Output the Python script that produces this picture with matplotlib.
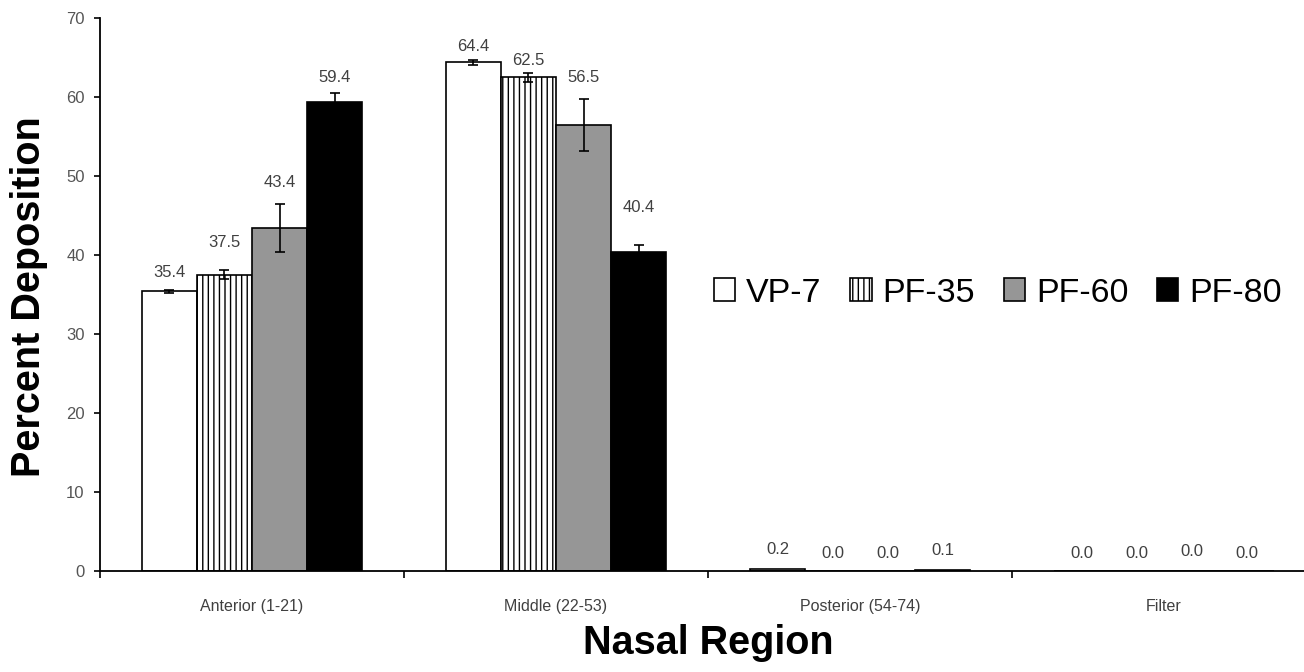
import matplotlib
matplotlib.use("Agg")
import matplotlib.pyplot as plt
import numpy as np

plt.rcParams["font.family"] = ["Liberation Sans", "DejaVu Sans"]
plt.rcParams["hatch.linewidth"] = 1.0

# data
regions = ["Anterior (1-21)", "Middle (22-53)", "Posterior (54-74)", "Filter"]
series_names = ["VP-7", "PF-35", "PF-60", "PF-80"]
vp7 = [35.4, 64.4, 0.2, 0.0]
pf35 = [37.5, 62.5, 0.0, 0.0]
pf60 = [43.4, 56.5, 0.0, 0.0]
pf80 = [59.4, 40.4, 0.1, 0.0]
vp7_err = [0.2, 0.3, 0.0, 0.0]
pf35_err = [0.6, 0.6, 0.0, 0.0]
pf60_err = [3.0, 3.3, 0.0, 0.0]
pf80_err = [1.1, 0.85, 0.0, 0.0]
y_ticks = [0, 10, 20, 30, 40, 50, 60, 70]

# styling
styles = [
    {"color": "white", "hatch": None},
    {"color": "white", "hatch": "|||"},
    {"color": "#969696", "hatch": None},
    {"color": "black", "hatch": None},
]
# vertical offset (pixels) of each value label above its bar, per series
label_offsets_px = [
    [19, 16, 20, 17],
    [32, 17, 17, 17],
    [46, 47, 17, 19],
    [24, 44, 20, 17],
]

values = [vp7, pf35, pf60, pf80]
errors = [vp7_err, pf35_err, pf60_err, pf80_err]

fig = plt.figure(figsize=(13.04, 6.72), dpi=100)
ax = fig.add_axes([100 / 1304, 101 / 672, 1216 / 1304, 553 / 672])

x = np.arange(len(regions))
bw = 0.181
for i, (vals, errs, st) in enumerate(zip(values, errors, styles)):
    pos = x + (i - 1.5) * bw
    ax.bar(pos, vals, width=bw, color=st["color"], hatch=st["hatch"],
           edgecolor="black", linewidth=1.2, label=series_names[i], zorder=2)
    errs = np.array(errs)
    m = errs > 0
    ax.errorbar(pos[m], np.array(vals)[m], yerr=errs[m], fmt="none",
                ecolor="black", elinewidth=1.2, capsize=3.6, capthick=1.2, zorder=3)
    for j, v in enumerate(vals):
        ax.annotate(f"{v:.1f}", (pos[j], v), xytext=(0, label_offsets_px[i][j]),
                    textcoords="offset pixels", ha="center", va="center",
                    fontsize=12, color="#404040")

ax.set_xlim(-0.5, 3.5)
ax.set_ylim(0, 70)
ax.set_yticks(y_ticks)
ax.tick_params(axis="y", direction="out", length=4, width=1.2, labelsize=12,
               labelcolor="#555555", pad=7)

ax.set_xticks(np.arange(len(regions)) - 0.5)
ax.set_xticklabels([])
ax.set_xticks(x, minor=True)
ax.set_xticklabels(regions, minor=True)
ax.tick_params(axis="x", which="major", direction="out", length=5, width=1.2)
ax.tick_params(axis="x", which="minor", length=0, pad=20, labelsize=11.5,
               labelcolor="#404040")

for s in ["top", "right"]:
    ax.spines[s].set_visible(False)
for s in ["left", "bottom"]:
    ax.spines[s].set_linewidth(1.3)

fig.text(708 / 1304, 1 - 643 / 672, "Nasal Region", ha="center", va="center",
         fontsize=28.5, fontweight="bold")
fig.text(29 / 1304, 1 - 297 / 672, "Percent Deposition", ha="center", va="center",
         rotation=90, fontsize=28.5, fontweight="bold")

fig.legend(loc="center", bbox_to_anchor=(998 / 1304, 1 - 293 / 672), ncol=4,
           frameon=False, fontsize=24.5, handlelength=0.62, handleheight=0.62,
           handletextpad=0.32, columnspacing=0.85, borderpad=0)

fig.savefig("out.png", dpi=100)
